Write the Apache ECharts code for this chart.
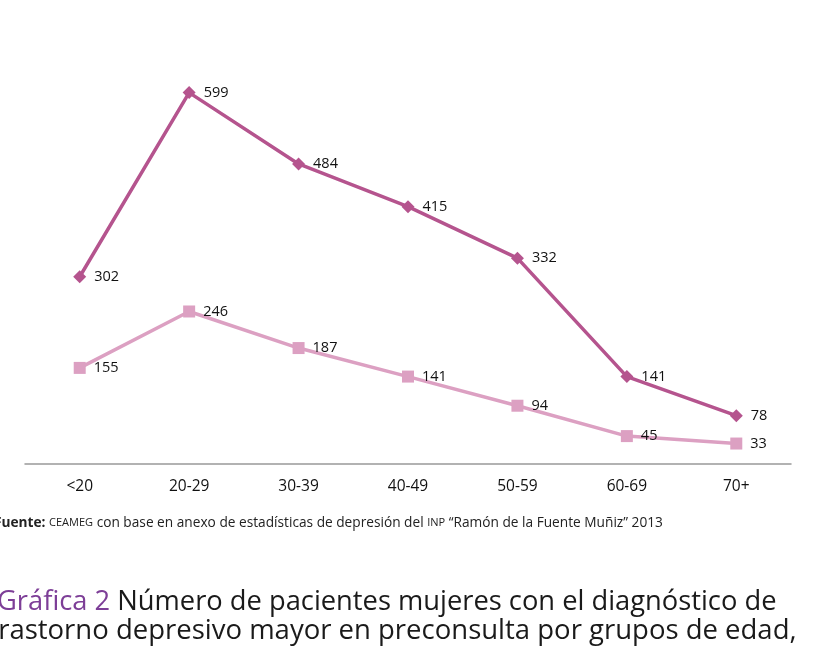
<!DOCTYPE html>
<html>
<head>
<meta charset="utf-8">
<script src="https://cdn.jsdelivr.net/npm/echarts@6/dist/echarts.min.js"></script>
<style>
html, body { margin: 0; padding: 0; background: #fff; }
#chart { width: 819px; height: 648px; }
</style>
</head>
<body>
<div id="chart"></div>
<script>
// Grupos de edad
const ageGroups = ['<20', '20-29', '30-39', '40-49', '50-59', '60-69', '70+'];
// Pacientes en preconsulta (serie superior)
const seriesTop = [302, 599, 484, 415, 332, 141, 78];
// Pacientes con trastorno depresivo mayor (serie inferior)
const seriesBottom = [155, 246, 187, 141, 94, 45, 33];

const chart = echarts.init(document.getElementById('chart'));

const labelStyle = {
  show: true,
  position: 'right',
  distance: 8,
  color: '#111',
  fontSize: 14.5,
  fontFamily: 'Open Sans'
};

chart.setOption({
  animation: false,
  backgroundColor: '#ffffff',
  grid: { left: 25, right: 28, top: 30, bottom: 184 },
  xAxis: {
    type: 'category',
    data: ageGroups,
    boundaryGap: true,
    axisLine: { lineStyle: { color: '#999', width: 1.5 } },
    axisTick: { show: false },
    axisLabel: { color: '#111', fontSize: 15.5, fontFamily: 'Open Sans', margin: 15 }
  },
  yAxis: {
    type: 'value',
    min: 0,
    max: 700,
    show: false,
    splitLine: { show: false }
  },
  series: [
    {
      type: 'line',
      data: seriesTop,
      symbol: 'diamond',
      symbolSize: 13,
      lineStyle: { color: '#B5548E', width: 3.5 },
      itemStyle: { color: '#B5548E' },
      label: labelStyle
    },
    {
      type: 'line',
      data: seriesBottom,
      symbol: 'rect',
      symbolSize: 12,
      lineStyle: { color: '#DCA0C2', width: 3.5 },
      itemStyle: { color: '#DCA0C2' },
      label: labelStyle
    }
  ],
  graphic: [
    {
      type: 'text',
      left: -6,
      top: 516,
      style: {
        text: '{b|Fuente:} {s|CEAMEG} con base en anexo de estadísticas de depresión del {s|INP} “Ramón de la Fuente Muñiz” 2013',
        fill: '#222',
        font: '13.7px "Open Sans"',
        rich: {
          b: { font: 'bold 13.7px "Open Sans"', fill: '#222' },
          s: { font: '11px "Open Sans"', fill: '#222' }
        }
      }
    },
    {
      type: 'text',
      left: -3,
      top: 589,
      style: {
        text: '{p|Gráfica 2} Número de pacientes mujeres con el diagnóstico de',
        fill: '#1a1a1a',
        font: '27.3px "Open Sans"',
        rich: {
          p: { font: '27.3px "Open Sans"', fill: '#7D3E97' }
        }
      }
    },
    {
      type: 'text',
      left: -17,
      top: 617,
      style: {
        text: 'Trastorno depresivo mayor en preconsulta por grupos de edad,',
        fill: '#1a1a1a',
        font: '27.5px "Open Sans"'
      }
    }
  ]
});
</script>
</body>
</html>
